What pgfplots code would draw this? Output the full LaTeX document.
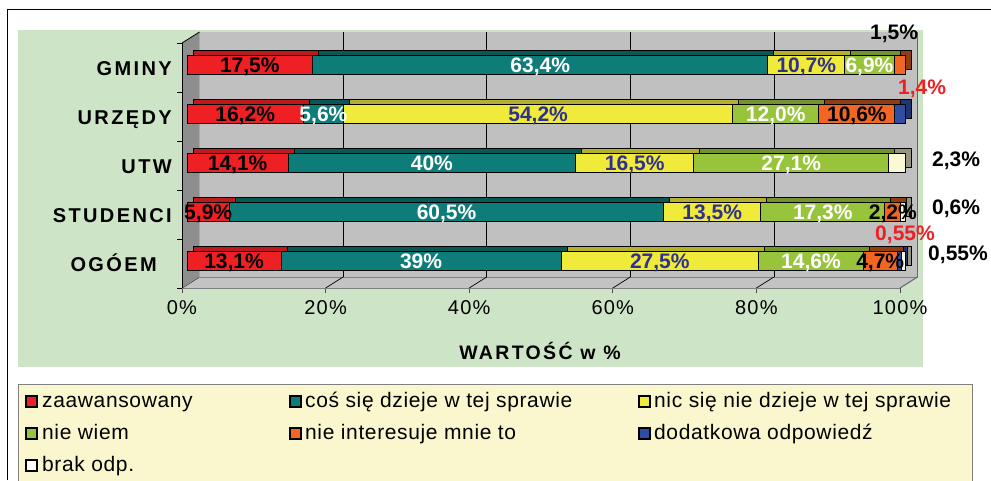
\documentclass[border=0pt]{standalone}
\usepackage{pgfplots}
\pgfplotsset{compat=1.18}
\usepackage{pgfplotstable}
\usepackage{fontspec}
\setmainfont{Liberation Sans}
\newfontfamily\lsfont[LetterSpace=12]{Liberation Sans}
\newfontfamily\tkfont[LetterSpace=6]{Liberation Sans}
\newfontfamily\legfont[LetterSpace=3]{Liberation Sans}

\definecolor{cRed}{HTML}{EE2024}
\definecolor{cTeal}{HTML}{0E7D7A}
\definecolor{cYel}{HTML}{F0EA3A}
\definecolor{cGrn}{HTML}{98C43C}
\definecolor{cOra}{HTML}{F26522}
\definecolor{cBlu}{HTML}{2E4DA3}
\definecolor{cBrak}{HTML}{FBF8D6}
\definecolor{cNavy}{HTML}{2E3192}
\definecolor{panel}{HTML}{CDE4C6}
\definecolor{legbg}{HTML}{FAF6CE}
\definecolor{wall}{HTML}{C0C0C0}
\definecolor{lwall}{HTML}{8E8E8E}

% y: 0=OGOEM,1=STUDENCI,2=UTW,3=URZEDY,4=GMINY
\pgfplotstableread{
y a    b    c    d    e    f    g    la        lb        lc        ld        le
0 13.1 39   27.5 14.6 4.7  0.55 0.55 {13,1\%}  {39\%}    {27,5\%}  {14,6\%}  {4,7\%}
1 5.9  60.5 13.5 17.3 2.2  0    0.6  {5,9\%}   {60,5\%}  {13,5\%}  {17,3\%}  {2,2\%}
2 14.1 40   16.5 27.1 0    0    2.3  {14,1\%}  {40\%}    {16,5\%}  {27,1\%}  {}
3 16.2 5.6  54.2 12.0 10.6 1.4  0    {16,2\%}  {5,6\%}   {54,2\%}  {12,0\%}  {10,6\%}
4 17.5 63.4 10.7 6.9  1.5  0    0    {17,5\%}  {63,4\%}  {10,7\%}  {6,9\%}   {}
}\data

\tikzset{vlab/.style={font=\bfseries\fontsize{21}{21}\selectfont, text height=15pt, text depth=0pt, inner sep=0pt, anchor=center}}

\begin{document}
\begin{tikzpicture}
\useasboundingbox (0,0) rectangle (991pt,-480pt);
\begin{scope}[x=1pt,y=-1pt]
  % outer frame
  \draw[black, line width=1pt] (7,480) -- (7,9) -- (991,9);
  % green panel
  \fill[panel] (18,30) rectangle (923,367);
  % legend box
  \filldraw[fill=legbg, draw=gray, line width=1pt] (18,384) rectangle (972,485);
  % back wall
  \fill[wall] (199.5,32) rectangle (917.5,277);
  \foreach \k in {1,...,4} \draw[black, line width=0.8pt] (199.5+143.6*\k,32) -- (199.5+143.6*\k,277);
  \draw[gray!80!black, line width=1pt] (917.5,32) -- (917.5,277);
  % floor
  \fill[wall!95!white] (182,288) -- (900,288) -- (917.5,277) -- (199.5,277) -- cycle;
  \draw[gray, line width=0.8pt] (199.5,277) -- (917.5,277);
  \foreach \k in {0,...,4} \draw[black, line width=0.7pt] (182+143.6*\k,288) -- (199.5+143.6*\k,277);
  \draw[gray!80!black, line width=1pt] (900,288) -- (917.5,277);
  % left wall
  \fill[lwall] (182,43) -- (199.5,32) -- (199.5,277) -- (182,288) -- cycle;
  \draw[black, line width=0.8pt] (182,43) -- (199.5,32);
  \draw[black, line width=1pt] (182,43) -- (182,288);
  \foreach \k in {0,...,5} \draw[black, line width=0.8pt] (177,43+49*\k) -- (182,43+49*\k);
\end{scope}

% bar tops / sides (depth)
\begin{axis}[
  at={(193pt,-280pt)}, anchor=south west,
  scale only axis, width=718pt, height=245pt,
  xmin=0, xmax=100, ymin=-0.5, ymax=4.5,
  xbar stacked, bar width=19pt,
  hide axis, clip=false,
]
\addplot[fill=cRed!80!black, draw=black, line width=1pt] table[x=a,y=y] {\data};
\addplot[fill=cTeal!70!black, draw=black, line width=1pt] table[x=b,y=y] {\data};
\addplot[fill=cYel!75!black, draw=black, line width=1pt] table[x=c,y=y] {\data};
\addplot[fill=cGrn!75!black, draw=black, line width=1pt] table[x=d,y=y] {\data};
\addplot[fill=cOra!60!black, draw=black, line width=1pt] table[x=e,y=y] {\data};
\addplot[fill=cBlu!70!black, draw=black, line width=1pt] table[x=f,y=y] {\data};
\addplot[fill=cBrak!60!black, draw=black, line width=1pt] table[x=g,y=y] {\data};
\end{axis}

% front bars
\begin{axis}[
  at={(187pt,-285pt)}, anchor=south west,
  scale only axis, width=718pt, height=245pt,
  xmin=0, xmax=100, ymin=-0.5, ymax=4.5,
  xbar stacked, bar width=19pt,
  axis line style={draw=none},
  xtick=\empty, ytick={0,...,4},
  yticklabels={OGÓEM\hspace*{15pt}, STUDENCI, UTW, URZĘDY, GMINY},
  major tick style={draw=none},
  yticklabel style={font=\lsfont\bfseries\fontsize{20}{20}\selectfont, anchor=base east, inner sep=0pt, xshift=-15pt, yshift=-10.5pt},
  clip=false,
]
\addplot[fill=cRed, draw=black, line width=1pt, nodes near coords, point meta=explicit symbolic,
  nodes near coords style={vlab, text=black}] table[x=a,y=y,meta=la] {\data};
\addplot[fill=cTeal, draw=black, line width=1pt, nodes near coords, point meta=explicit symbolic,
  nodes near coords style={vlab, text=white}] table[x=b,y=y,meta=lb] {\data};
\addplot[fill=cYel, draw=black, line width=1pt, nodes near coords, point meta=explicit symbolic,
  nodes near coords style={vlab, text=cNavy}] table[x=c,y=y,meta=lc] {\data};
\addplot[fill=cGrn, draw=black, line width=1pt, nodes near coords, point meta=explicit symbolic,
  nodes near coords style={vlab, text=white}] table[x=d,y=y,meta=ld] {\data};
\addplot[fill=cOra, draw=black, line width=1pt, nodes near coords, point meta=explicit symbolic,
  nodes near coords style={vlab, text=black}] table[x=e,y=y,meta=le] {\data};
\addplot[fill=cBlu, draw=black, line width=1pt] table[x=f,y=y] {\data};
\addplot[fill=cBrak, draw=black, line width=1pt] table[x=g,y=y] {\data};
\end{axis}

% front floor edge with ticks
\begin{axis}[
  at={(182pt,-288pt)}, anchor=south west,
  scale only axis, width=718pt, height=1pt,
  xmin=0, xmax=100, ymin=0, ymax=1,
  axis x line*=bottom, axis y line=none,
  x axis line style={draw=gray, line width=1pt, -},
  xtick={0,20,40,60,80,100},
  xticklabels={0\%,20\%,40\%,60\%,80\%,100\%},
  tick align=outside, major tick length=5pt,
  major tick style={draw=black!70, line width=0.8pt},
  xticklabel style={font=\tkfont\fontsize{20}{20}\selectfont, text height=14.3pt, text depth=0pt, inner sep=0pt, anchor=north, yshift=-7pt},
]
\addplot[draw=none] coordinates {(0,0)};
\end{axis}

\begin{scope}[x=1pt,y=-1pt]
  % outside value labels
  \node[vlab, text=black] at (894,31.5) {1,5\%};
  \node[vlab, text=cRed] at (922,87) {1,4\%};
  \node[vlab, text=black] at (956,159) {2,3\%};
  \node[vlab, text=black] at (956,207) {0,6\%};
  \node[vlab, text=cRed] at (905,233) {0,55\%};
  \node[vlab, text=black] at (958,253) {0,55\%};
  % axis title
  \node[font=\lsfont\bfseries\fontsize{19.5}{20}\selectfont, text height=14pt, text depth=0pt, inner sep=0pt] at (540,352) {WARTOŚĆ w \%};
  % legend
  \tikzset{lm/.style={draw=black, line width=1.2pt}, lt/.style={font=\legfont\fontsize{21}{21}\selectfont, anchor=west, inner sep=0pt, text height=15pt, text depth=4pt}}
  \filldraw[lm, fill=cRed] (26,396) rectangle (37,407);
  \node[lt] at (42,402) {zaawansowany};
  \filldraw[lm, fill=cTeal] (290,396) rectangle (301,407);
  \node[lt] at (305,402) {coś się dzieje w tej sprawie};
  \filldraw[lm, fill=cYel] (639,396) rectangle (650,407);
  \node[lt] at (654,402) {nic się nie dzieje w tej sprawie};
  \filldraw[lm, fill=cGrn] (26,428) rectangle (37,439);
  \node[lt] at (42,434) {nie wiem};
  \filldraw[lm, fill=cOra] (290,428) rectangle (301,439);
  \node[lt] at (305,434) {nie interesuje mnie to};
  \filldraw[lm, fill=cBlu] (639,428) rectangle (650,439);
  \node[lt] at (654,434) {dodatkowa odpowiedź};
  \filldraw[lm, fill=white] (26,460) rectangle (37,471);
  \node[lt] at (42,466) {brak odp.};
\end{scope}
\end{tikzpicture}
\end{document}
